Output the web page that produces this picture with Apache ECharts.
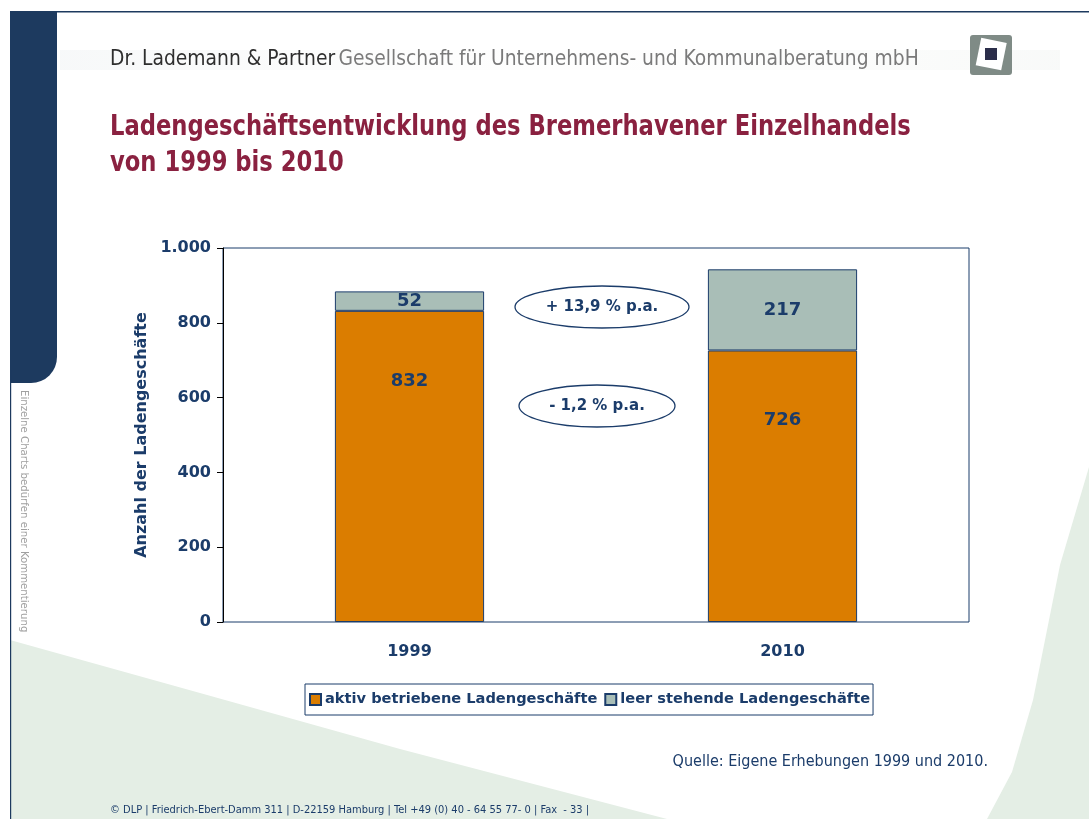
<!DOCTYPE html>
<html>
<head>
<meta charset="utf-8">
<script src="https://cdn.jsdelivr.net/npm/echarts@6/dist/echarts.min.js"></script>
<style>
  html, body { margin: 0; padding: 0; background: #fff; }
  #main { width: 1089px; height: 819px; }
</style>
</head>
<body>
<div id="main"></div>
<script>
// Daten
var jahre = ['1999', '2010'];
var aktiv = [832, 726];   // aktiv betriebene Ladengeschäfte
var leer = [52, 217];     // leer stehende Ladengeschäfte
var wachstum = ['+ 13,9 % p.a.', '- 1,2 % p.a.'];

var navy = '#1b3c6a';
var fontBold = 'DejaVu Sans';

var myChart = echarts.init(document.getElementById('main'));

var option = {
    backgroundColor: '#fff',
    animation: false,
    grid: {
        left: 223, right: 120, top: 248, bottom: 197,
        show: true, borderColor: navy, borderWidth: 1
    },
    legend: {
        bottom: 104,
        left: 305,
        data: ['aktiv betriebene Ladengeschäfte', 'leer stehende Ladengeschäfte'],
        icon: 'rect',
        itemWidth: 11, itemHeight: 11, itemGap: 7,
        borderColor: navy, borderWidth: 1,
        padding: [8, 3, 8, 4],
        textStyle: { color: navy, fontFamily: fontBold, fontWeight: 'bold', fontSize: 14.6, padding: [0, 0, 0, -1] }
    },
    xAxis: {
        type: 'category',
        data: jahre,
        axisLine: { show: false },
        axisTick: { show: false },
        axisLabel: { color: navy, fontFamily: fontBold, fontWeight: 'bold', fontSize: 16, margin: 22 }
    },
    yAxis: {
        type: 'value',
        min: 0, max: 1000, interval: 200,
        name: 'Anzahl der Ladengeschäfte',
        nameLocation: 'middle',
        nameGap: 72,
        nameTextStyle: { color: navy, fontFamily: fontBold, fontWeight: 'bold', fontSize: 16 },
        axisLine: { show: true, lineStyle: { color: '#000', width: 1 } },
        axisTick: { show: true, length: 6, lineStyle: { color: '#000' } },
        splitLine: { show: false },
        axisLabel: {
            color: navy, fontFamily: fontBold, fontWeight: 'bold', fontSize: 16, margin: 12,
            formatter: function (v) { return v >= 1000 ? String(v).replace(/(\d)(\d{3})$/, '$1.$2') : v; }
        }
    },
    series: [
        {
            name: 'aktiv betriebene Ladengeschäfte',
            type: 'bar',
            stack: 'summe',
            barWidth: '40%',
            data: aktiv,
            itemStyle: { color: '#db7d00', borderColor: navy, borderWidth: 1 },
            label: {
                show: true, position: 'insideTop', distance: 61,
                color: navy, fontFamily: fontBold, fontWeight: 'bold', fontSize: 18
            }
        },
        {
            name: 'leer stehende Ladengeschäfte',
            type: 'bar',
            stack: 'summe',
            data: leer,
            itemStyle: { color: '#a9beb7', borderColor: navy, borderWidth: 1 },
            label: {
                show: true, position: 'inside',
                color: navy, fontFamily: fontBold, fontWeight: 'bold', fontSize: 18
            }
        }
    ],
    graphic: [
        // gruene Hintergrundflaechen
        { type: 'polygon', z: -10, silent: true,
          shape: { points: [[10, 640], [200, 693], [400, 749], [667, 819], [10, 819]] },
          style: { fill: '#e4eee5' } },
        { type: 'polygon', z: -10, silent: true,
          shape: { points: [[1089, 467], [1060, 565], [1033, 700], [1012, 772], [987, 819], [1089, 819]] },
          style: { fill: '#e4eee5' } },
        // Rahmen links / oben
        { type: 'rect', z: -5, silent: true, shape: { x: 10, y: 11, width: 1079, height: 1.5 }, style: { fill: '#1d3a5f' } },
        { type: 'rect', z: -5, silent: true, shape: { x: 10, y: 11, width: 47, height: 372, r: [0, 0, 26, 0] }, style: { fill: '#1d3a5f' } },
        { type: 'rect', z: -5, silent: true, shape: { x: 10, y: 370, width: 1.2, height: 449 }, style: { fill: '#1d3a5f' } },
        { type: 'text', silent: true, x: 24, y: 390, rotation: -Math.PI / 2,
          style: { text: 'Einzelne Charts bedürfen einer Kommentierung', fill: '#a0a0a0',
                   font: '11.3px "DejaVu Sans Condensed"', textAlign: 'left', textVerticalAlign: 'middle' } },
        // Kopfzeile
        { type: 'rect', z: -6, silent: true, shape: { x: 60, y: 50, width: 1000, height: 20 },
          style: { fill: new echarts.graphic.LinearGradient(0, 0, 1, 0, [
              { offset: 0, color: 'rgba(228,233,236,0.3)' }, { offset: 0.5, color: 'rgba(244,245,242,0.1)' },
              { offset: 1, color: 'rgba(228,234,230,0.25)' }]) } },
        { type: 'text', silent: true, x: 110, y: 60,
          style: { rich: {
                     a: { fill: '#2e2e2e', font: '20.8px "DejaVu Sans Condensed"' },
                     b: { fill: '#7a7a7a', font: '20.8px "DejaVu Sans Condensed"' } },
                   text: '{a|Dr. Lademann & Partner} {b|Gesellschaft für Unternehmens- und Kommunalberatung mbH}',
                   textVerticalAlign: 'middle' } },
        // Logo
        { type: 'rect', silent: true, shape: { x: 970, y: 35, width: 42, height: 40, r: 3 }, style: { fill: '#7f8b86' } },
        { type: 'rect', silent: true, x: 991, y: 55, originX: 0, originY: 0, rotation: -0.2,
          shape: { x: -13, y: -15, width: 26, height: 28 }, style: { fill: '#fff' } },
        { type: 'rect', silent: true, shape: { x: 985, y: 48, width: 12, height: 12 }, style: { fill: '#2b2e4a' } },
        // Titel
        { type: 'text', silent: true, x: 110, y: 110, scaleX: 0.9,
          style: { text: 'Ladengeschäftsentwicklung des Bremerhavener Einzelhandels\nvon 1999 bis 2010',
                   fill: '#8a2140', font: 'bold 28px "DejaVu Sans Condensed"', lineHeight: 36 } },
        // Wachstumsraten
        { type: 'ellipse', shape: { cx: 602, cy: 307, rx: 87, ry: 21 }, style: { fill: '#fff', stroke: navy, lineWidth: 1.3 } },
        { type: 'text', x: 602, y: 307,
          style: { text: wachstum[0], fill: navy, font: 'bold 15px "DejaVu Sans"', textAlign: 'center', textVerticalAlign: 'middle' } },
        { type: 'ellipse', shape: { cx: 597, cy: 406, rx: 78, ry: 21 }, style: { fill: '#fff', stroke: navy, lineWidth: 1.3 } },
        { type: 'text', x: 597, y: 406,
          style: { text: wachstum[1], fill: navy, font: 'bold 15px "DejaVu Sans"', textAlign: 'center', textVerticalAlign: 'middle' } },
        // Quelle und Fusszeile
        { type: 'text', silent: true, x: 988, y: 762,
          style: { text: 'Quelle: Eigene Erhebungen 1999 und 2010.', fill: navy, font: '16px "DejaVu Sans Condensed"',
                   textAlign: 'right', textVerticalAlign: 'middle' } },
        { type: 'text', silent: true, x: 110, y: 810,
          style: { text: '© DLP | Friedrich-Ebert-Damm 311 | D-22159 Hamburg | Tel +49 (0) 40 - 64 55 77- 0 | Fax  - 33 |',
                   fill: navy, font: '11px "DejaVu Sans Condensed"', textVerticalAlign: 'middle' } }
    ]
};
myChart.setOption(option);
</script>
</body>
</html>
